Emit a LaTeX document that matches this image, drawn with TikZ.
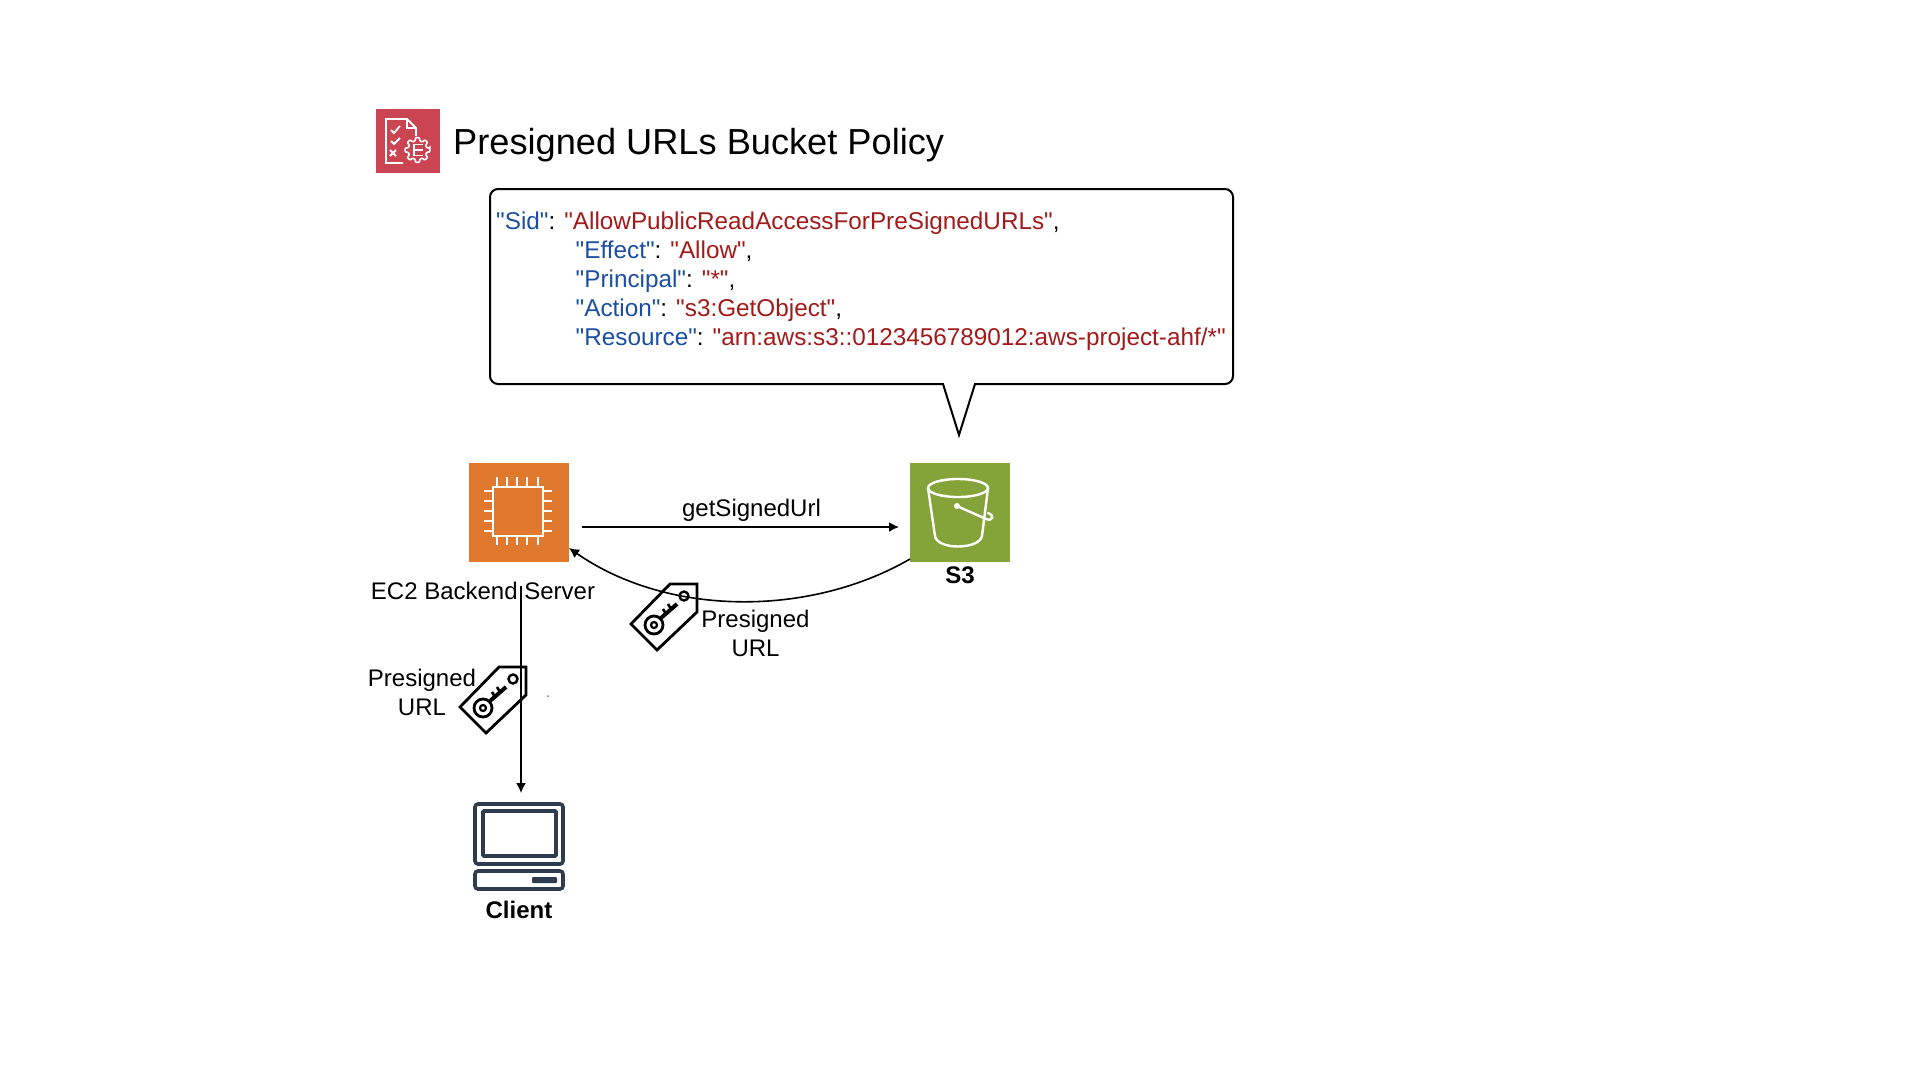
\documentclass[tikz,border=0pt]{standalone}
\usepackage{fontspec}
\setmainfont{Liberation Sans}
\newfontfamily\codefont{Liberation Sans}
\usetikzlibrary{arrows.meta}
\definecolor{keyblue}{HTML}{1B4FA3}
\definecolor{valred}{HTML}{A31A1A}
\definecolor{ectwo}{HTML}{E0782E}
\definecolor{sthree}{HTML}{84A338}
\definecolor{polred}{HTML}{CB4452}
\definecolor{navy}{HTML}{2F3B4E}
\newcommand{\K}[1]{\textcolor{keyblue}{#1}}
\newcommand{\V}[1]{\textcolor{valred}{#1}}
\tikzset{
  lbl/.style={font=\fontsize{24}{29}\selectfont,align=center,inner sep=0pt,text=black},
  blbl/.style={font=\fontsize{24}{29}\selectfont\bfseries,inner sep=0pt,text=black},
  code/.style={font=\codefont\fontsize{24.3}{29}\selectfont,anchor=base west,inner sep=0pt},
  iconbox/.style={rectangle,inner sep=0pt,minimum width=100pt,minimum height=99pt},
  conn/.style={line width=1.6pt,-{Latex[length=10pt,width=10pt]}},
  wline/.style={draw=white,line width=2.4pt},
  tagicon/.pic={
    \draw[line width=2.8pt,line join=miter] (0,0) -- (26,26) -- (66,-12) -- (66,-40) -- (39,-40) -- cycle;
    \draw[line width=2.4pt] (53,-28) circle (4.5);
    \draw[line width=2.8pt] (23,1) circle (9);
    \draw[line width=2.2pt] (23,1) circle (3);
    \draw[line width=4pt] (30,-6) -- (46,-20);
    \draw[line width=2.6pt] (35,-10) -- (32,-15);
    \draw[line width=2.6pt] (40,-15) -- (37,-20);
  }
}
\begin{document}
\begin{tikzpicture}[x=1pt,y=-1pt]
\useasboundingbox[fill=white] (0,0) rectangle (1920,1080);

% policy icon
\node[rectangle,fill=polred,inner sep=0pt,minimum size=64pt] (policy) at (408,141) {};
\draw[wline,line width=1.8pt,line join=miter] (403,163) -- (386,163) -- (386,119) -- (407,119) -- (416,128) -- (416,136);
\draw[wline,line width=1.8pt] (407,119) -- (407,128) -- (416,128);
\draw[wline,line width=1.8pt] (391,130) -- (394,133) -- (400,126);
\draw[wline,line width=1.8pt] (391,141) -- (394,144) -- (400,138);
\draw[wline,line width=1.8pt] (390,150) -- (396,156) (396,150) -- (390,156);
\begin{scope}[shift={(417.5,150)}]
  \draw[wline,fill=polred,line width=1.6pt,rounded corners=0.8pt] (-9:12.5)
    \foreach \a in {0,45,...,315}{ -- (\a-9:12.5) -- (\a+9:12.5) -- (\a+14:9.5) -- (\a+31:9.5) } -- cycle;
  \draw[wline,line width=1.6pt] (5,-5.5) -- (-3.5,-5.5) -- (-3.5,5.5) -- (5,5.5) (-3.5,0) -- (5,0);
\end{scope}

\node[anchor=base west,inner sep=0pt,font=\fontsize{36.2}{40}\selectfont] (title) at (453,154) {Presigned URLs Bucket Policy};

% callout
\draw[line width=2pt,line join=miter] (975,384) -- (959,435) -- (943,384) [rounded corners=8pt] -- (490,384) -- (490,189) -- (1233,189) -- (1233,384) [sharp corners] -- cycle;

\node[code] (l1) at (496,229) {\K{"Sid"}: \V{"AllowPublicReadAccessForPreSignedURLs"},};
\node[code] (l2) at (575.5,258) {\K{"Effect"}: \V{"Allow"},};
\node[code] (l3) at (575.5,287) {\K{"Principal"}: \V{"*"},};
\node[code] (l4) at (575.5,316) {\K{"Action"}: \V{"s3:GetObject"},};
\node[code] (l5) at (575.5,345) {\K{"Resource"}: \V{"arn:aws:s3::0123456789012:aws-project-ahf/*"}};

% EC2
\node[iconbox,fill=ectwo] (ec2) at (519,512.5) {};
\draw[wline] (493,487) rectangle (543,536);
\foreach \p in {497,507,517,527,538}{
  \draw[wline] (\p,477) -- (\p,487);
  \draw[wline] (\p,536) -- (\p,545);
}
\foreach \p in {491,501,511,521,531}{
  \draw[wline] (484,\p) -- (493,\p);
  \draw[wline] (543,\p) -- (552,\p);
}
\node[lbl] (ec2lbl) at (483,591) {EC2 Backend Server};

% S3
\node[iconbox,fill=sthree] (s3) at (960,512.5) {};
\draw[wline] (958,488) ellipse (30 and 9);
\draw[wline] (928,488) -- (935,536) .. controls (937,550) and (979,550) .. (982,536) -- (988,488);
\draw[wline,line cap=round] (957,506) -- (986,519) .. controls (994,522) and (994,514) .. (988,513);
\fill[white] (957,506) circle (3);
\node[blbl] (s3lbl) at (960,575.5) {S3};

% Client
\node[rectangle,inner sep=0pt,minimum width=91pt,minimum height=88pt] (client) at (518.5,846) {};
\draw[navy,line width=3.6pt,rounded corners=3pt] (475,804) rectangle (563,864);
\draw[navy,line width=3.6pt,rounded corners=1pt] (483,811) rectangle (556,856);
\draw[navy,line width=3.6pt,rounded corners=3pt] (475,871) rectangle (563,889);
\fill[navy,rounded corners=1pt] (532,877) rectangle (557,883);
\node[blbl] (clientlbl) at (519,910) {Client};

% connectors
\coordinate (reqa) at (581.5,527);
\coordinate (reqb) at (899,527);
\draw[conn] (reqa) -- (reqb);
\node[lbl] (reqlbl) at (751.5,510) {getSignedUrl};
\coordinate (resa) at (910,559);
\coordinate (resb) at (569,548);
\draw[conn] (resa) .. controls (810,617) and (668,617) .. (resb);
\coordinate (dla) at (521,586);
\coordinate (dlb) at (521,793);
\draw[conn] (dla) -- (dlb);

% tags and labels
\pic (tagone) at (631,624) {tagicon};
\pic (tagtwo) at (460,707) {tagicon};
\node[lbl] (urlone) at (755.5,633.5) {Presigned\\URL};
\node[lbl] (urltwo) at (422,692) {Presigned\\URL};
\fill[navy!70] (548,696) circle (1);
\end{tikzpicture}
\end{document}
